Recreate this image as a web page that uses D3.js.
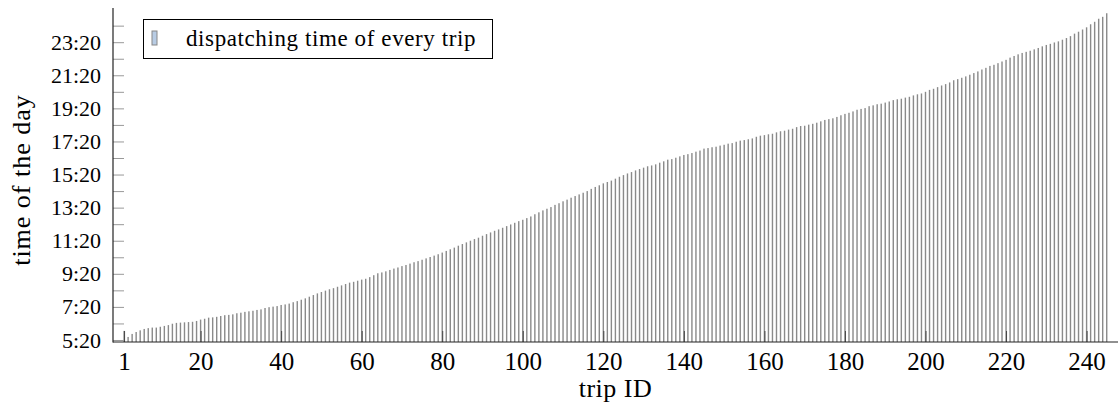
<!DOCTYPE html>
<html>
<head>
<meta charset="utf-8">
<script src="https://cdn.jsdelivr.net/npm/d3@7"></script>
<style>
  body { margin: 0; background: #fff; }
  svg { display: block; font-family: "Liberation Serif", "DejaVu Serif", serif; }
</style>
</head>
<body>
<div id="output"></div>
<script>
// dispatching time of each trip, minutes after midnight (values > 1440 run past 24:00)
var departMinutes = [
  353, 331, 342, 349, 355, 360, 363, 365, 365, 368,
  371, 374, 379, 382, 383, 384, 385, 386, 389, 394,
  397, 401, 402, 404, 407, 410, 411, 413, 417, 419,
  422, 424, 426, 429, 431, 436, 439, 441, 443, 447,
  449, 452, 457, 461, 466, 471, 477, 483, 489, 494,
  499, 504, 508, 513, 518, 523, 528, 531, 535, 539,
  542, 548, 555, 562, 565, 569, 574, 579, 583, 588,
  592, 597, 602, 606, 611, 616, 621, 626, 631, 637,
  643, 649, 655, 662, 668, 674, 680, 686, 691, 698,
  704, 710, 716, 721, 727, 733, 739, 745, 751, 756,
  762, 768, 776, 783, 790, 796, 802, 810, 816, 823,
  829, 836, 842, 848, 854, 860, 868, 875, 881, 888,
  893, 898, 905, 912, 918, 924, 929, 935, 940, 945,
  950, 953, 957, 963, 968, 974, 976, 981, 986, 991,
  994, 998, 1003, 1007, 1014, 1016, 1019, 1021, 1025, 1028,
  1032, 1034, 1039, 1043, 1045, 1048, 1051, 1057, 1061, 1063,
  1066, 1068, 1073, 1077, 1079, 1083, 1086, 1092, 1096, 1097,
  1101, 1104, 1108, 1113, 1118, 1121, 1124, 1129, 1135, 1140,
  1144, 1149, 1155, 1158, 1161, 1168, 1171, 1175, 1177, 1181,
  1185, 1190, 1193, 1195, 1199, 1202, 1207, 1211, 1214, 1220,
  1227, 1231, 1237, 1243, 1248, 1254, 1262, 1266, 1271, 1276,
  1282, 1288, 1294, 1301, 1307, 1314, 1318, 1324, 1330, 1336,
  1344, 1350, 1356, 1361, 1365, 1369, 1374, 1379, 1385, 1390,
  1394, 1399, 1403, 1409, 1415, 1422, 1431, 1438, 1446, 1454,
  1465, 1474, 1485, 1492, 1505
];
var tripIds = departMinutes.map((_, i) => i + 1);

var xTicks = [1, 20, 40, 60, 80, 100, 120, 140, 160, 180, 200, 220, 240];
var yTicks = [320, 440, 560, 680, 800, 920, 1040, 1160, 1280, 1400]; // 5:20 ... 23:20
var yMinorTicks = [380, 500, 620, 740, 860, 980, 1100, 1220, 1340, 1460];

var legendLabel = 'dispatching time of every trip';
var xLabel = 'trip ID';
var yLabel = 'time of the day';

var width = 1119;
var height = 412;
// plot box (note: "top" is reserved on window, so use other names)
var plotLeft = 113, plotRight = 1118, plotTop = 8, plotBottom = 342;

var svg = d3.select('#output')
  .append('svg')
  .attr('width', width)
  .attr('height', height);

var xScale = d3.scaleLinear()
  .domain([-1.75, 247.8])
  .range([plotLeft, plotRight]);

var yScale = d3.scaleLinear()
  .domain([312.7, 1524])
  .range([plotBottom, plotTop]);

function fmtTime(m) {
  var h = Math.floor(m / 60);
  var mm = m % 60;
  return h + ':' + (mm < 10 ? '0' : '') + mm;
}

// bars
svg.append('g')
  .selectAll('rect')
  .data(departMinutes)
  .enter()
  .append('rect')
  .attr('x', (_, i) => xScale(tripIds[i]) - 0.7)
  .attr('y', (d) => yScale(d))
  .attr('width', 1.4)
  .attr('height', (d) => plotBottom - yScale(d))
  .attr('fill', '#8a8a8a');

// y axis (ticks point inward)
var yAxis = d3.axisLeft(yScale)
  .tickValues(yTicks)
  .tickFormat(fmtTime)
  .tickSizeInner(-11)
  .tickSizeOuter(0)
  .tickPadding(12);

var gy = svg.append('g')
  .attr('transform', `translate(${plotLeft}, 0)`)
  .call(yAxis);
gy.select('.domain').remove();
gy.selectAll('.tick line').attr('stroke', '#999').attr('stroke-width', 1);
gy.selectAll('.tick text')
  .attr('x', -12)
  .attr('font-size', 22)
  .attr('font-family', '"Liberation Serif", serif')
  .attr('fill', '#000');

var gyMinor = svg.append('g')
  .attr('transform', `translate(${plotLeft}, 0)`)
  .call(d3.axisLeft(yScale).tickValues(yMinorTicks).tickFormat('').tickSizeInner(-11).tickSizeOuter(0));
gyMinor.select('.domain').remove();
gyMinor.selectAll('.tick line').attr('stroke', '#999').attr('stroke-width', 1);

// x axis
var xAxis = d3.axisBottom(xScale)
  .tickValues(xTicks)
  .tickSizeInner(-11)
  .tickSizeOuter(0)
  .tickPadding(10);

var gx = svg.append('g')
  .attr('transform', `translate(0, ${plotBottom})`)
  .call(xAxis);
gx.select('.domain').remove();
gx.selectAll('.tick line').attr('stroke', '#444').attr('stroke-width', 1);
gx.selectAll('.tick text')
  .attr('y', 28)
  .attr('dy', null)
  .attr('font-size', 25)
  .attr('font-family', '"Liberation Serif", serif')
  .attr('fill', '#000');

// axis lines
svg.append('line')
  .attr('x1', plotLeft).attr('x2', plotLeft)
  .attr('y1', plotTop).attr('y2', plotBottom + 0.5)
  .attr('stroke', '#222').attr('stroke-width', 1.2);
svg.append('line')
  .attr('x1', plotLeft).attr('x2', plotRight)
  .attr('y1', plotBottom).attr('y2', plotBottom)
  .attr('stroke', '#222').attr('stroke-width', 1.2);

// axis labels
svg.append('text')
  .attr('x', (plotLeft + plotRight) / 2)
  .attr('y', 397)
  .attr('text-anchor', 'middle')
  .attr('font-size', 26)
  .attr('letter-spacing', 0.5)
  .text(xLabel);

svg.append('text')
  .attr('transform', 'translate(30, 180) rotate(-90)')
  .attr('text-anchor', 'middle')
  .attr('font-size', 26)
  .attr('letter-spacing', 1)
  .text(yLabel);

// legend
var legend = svg.append('g');
legend.append('rect')
  .attr('x', 143.5).attr('y', 19.5)
  .attr('width', 349).attr('height', 39)
  .attr('fill', '#fff')
  .attr('stroke', '#000')
  .attr('stroke-width', 1);
legend.append('rect')
  .attr('x', 152).attr('y', 31)
  .attr('width', 5).attr('height', 14)
  .attr('fill', '#b8cce4')
  .attr('stroke', '#888')
  .attr('stroke-width', 1);
legend.append('text')
  .attr('x', 186)
  .attr('y', 46)
  .attr('font-size', 23)
  .attr('letter-spacing', 0.6)
  .text(legendLabel);
</script>
</body>
</html>
